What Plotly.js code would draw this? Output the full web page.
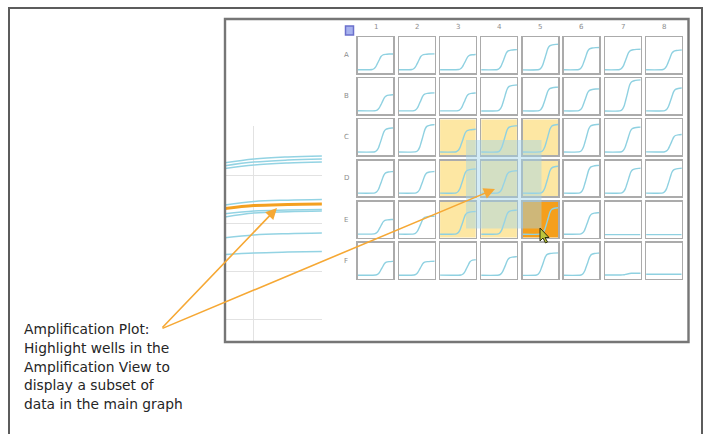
<!DOCTYPE html>
<html><head><meta charset="utf-8">
<script src="https://cdn.plot.ly/plotly-3.0.1.min.js"></script>
<style>html,body{margin:0;padding:0;background:#fff;}#chart{width:704px;height:434px;}</style>
</head><body><div id="chart"></div>
<script>
// ---------------- data ----------------
const colLabels = ['1','2','3','4','5','6','7','8'];
const rowLabels = ['A','B','C','D','E','F'];
// rise point (cycle, 0-40) of each well's amplification curve; null = no amplification
const ctA = [23.2, 21.6, 28.0, 25.2, 25.6, 24.0, 23.6, 26.0];
const ctB = [27.2, 24.0, 27.2, 26.0, 25.6, 24.0, 24.8, 28.0];
const ctC = [26.4, 26.4, 25.2, 26.0, 28.0, 25.2, 25.6, 28.0];
const ctD = [26.4, 26.4, 25.2, 26.0, 28.0, 25.2, 26.0, 26.0];
const ctE = [25.6, 24.0, 25.2, 26.0, 28.0, 26.4, null, null];
const ctF = [27.2, 24.0, 30.4, 26.8, 22.8, 26.4, 24.8, null];
// plateau level of each well (normalised to the well thumbnail)
const plA = [0.53, 0.53, 0.52, 0.65, 0.80, 0.71, 0.66, 0.64];
const plB = [0.54, 0.59, 0.59, 0.81, 0.75, 0.70, 0.95, 0.73];
const plC = [0.76, 0.85, 0.72, 0.82, 0.86, 0.86, 0.78, 0.58];
const plD = [0.69, 0.69, 0.76, 0.71, 0.84, 0.86, 0.78, 0.78];
const plE = [0.50, 0.59, 0.72, 0.76, 0.83, 0.69, 0.08, 0.08];
const plF = [0.48, 0.48, 0.53, 0.61, 0.71, 0.71, 0.15, 0.12];
const baseline = 0.1;
// typical amplification curve shape, relative to the rise point
const tplDx   = [-40, -7, -5, -3, -1.5, 0, 1.5, 3, 5, 8, 12, 40];
const tplFrac = [0, 0, 0.05, 0.17, 0.33, 0.5, 0.68, 0.84, 0.94, 0.98, 1.0, 1.03];
const selectedWells = ['C3','C4','C5','D3','D4','D5','E3','E4'];
const activeWells = ['E5'];
// main amplification graph (visible plateau part)
const mainCycles = [25, 30, 35, 40];
const mainBlue = [
  [1.62, 1.667, 1.688, 1.698],
  [1.59, 1.635, 1.656, 1.667],
  [1.56, 1.604, 1.625, 1.635],
  [1.18, 1.224, 1.238, 1.245],
  [1.09, 1.125, 1.135, 1.141],
  [1.055, 1.104, 1.118, 1.125],
  [0.84, 0.875, 0.889, 0.896],
  [0.668, 0.6875, 0.697, 0.703]
];
const mainOrange = [1.145, 1.182, 1.193, 1.198];
const caption = ['Amplification Plot:', 'Highlight wells in the', 'Amplification View to', 'display a subset of', 'data in the main graph'];

// ---------------- build ----------------
const W = 704, H = 434;
const traces = [];
const shapes = [];
const annotations = [];
const layout = {
  width: W, height: H, margin: {l:0, r:0, t:0, b:0},
  paper_bgcolor: '#ffffff', plot_bgcolor: 'rgba(0,0,0,0)',
  showlegend: false, hovermode: false,
  font: {family: 'DejaVu Sans, sans-serif', color: '#262626'},
  xaxis: {domain:[0,1], range:[0,W], visible:false, fixedrange:true},
  yaxis: {domain:[0,1], range:[H,0], visible:false, fixedrange:true},
  xaxis2: {domain:[225/W, 322/W], range:[25.74, 40.02], anchor:'y2', tick0:0, dtick:10,
           showgrid:true, gridcolor:'#e2e2e2', gridwidth:1, zeroline:false, showline:false,
           showticklabels:false, ticks:'', fixedrange:true},
  yaxis2: {domain:[1-342/H, 1-126/H], range:[-0.2396, 2.0104], anchor:'x2', tick0:0, dtick:0.5,
           showgrid:true, gridcolor:'#e2e2e2', gridwidth:1, zeroline:false, showline:false,
           showticklabels:false, ticks:'', fixedrange:true}
};
// overlay dummy trace so the full-page axis exists
traces.push({type:'scatter', mode:'markers', x:[-10], y:[-10], xaxis:'x', yaxis:'y', marker:{size:1, color:'rgba(0,0,0,0)'}, hoverinfo:'skip'});

// main graph traces
mainBlue.forEach(v => traces.push({type:'scatter', mode:'lines', x:mainCycles, y:v, xaxis:'x2', yaxis:'y2',
  line:{color:'#93d3e3', width:1.5, shape:'spline'}, hoverinfo:'skip'}));
traces.push({type:'scatter', mode:'lines', x:mainCycles, y:mainOrange, xaxis:'x2', yaxis:'y2',
  line:{color:'#f4a020', width:3, shape:'spline'}, hoverinfo:'skip'});

// plate thumbnails
const ctRows = [ctA, ctB, ctC, ctD, ctE, ctF];
const plRows = [plA, plB, plC, plD, plE, plF];
const LW = 1.4;
const cellAxis = {showgrid:false, zeroline:false, showticklabels:false, ticks:'',
  showline:true, mirror:true, linecolor:'#ababab', linewidth:LW, fixedrange:true};
rowLabels.forEach((r, ri) => {
  colLabels.forEach((c, ci) => {
    const n = 3 + ri*8 + ci;
    const left = 357 + ci*41.2 + LW/2, top = 36.5 + ri*41.1 + LW/2;
    const cw = 37 - LW, ch = 37.3 - LW;
    layout['xaxis'+n] = Object.assign({domain:[left/W, (left+cw)/W], range:[0,40], anchor:'y'+n}, cellAxis);
    layout['yaxis'+n] = Object.assign({domain:[1-(top+ch)/H, 1-top/H], range:[0,1], anchor:'x'+n}, cellAxis);
    const ct = ctRows[ri][ci], pl = plRows[ri][ci];
    let xs, ys;
    if (ct === null) { xs = [0, 40]; ys = [pl, pl]; }
    else { xs = tplDx.map(d => ct + d); ys = tplFrac.map(f => baseline + f*(pl - baseline)); }
    traces.push({type:'scatter', mode:'lines', x:xs, y:ys, xaxis:'x'+n, yaxis:'y'+n,
      line:{color:'#8fd1e1', width:1.4, shape:'spline', smoothing:0.7}, hoverinfo:'skip'});
    const id = r + c;
    if (selectedWells.includes(id) || activeWells.includes(id)) {
      shapes.push({type:'rect', xref:'x'+n+' domain', yref:'y'+n+' domain', x0:0, x1:1, y0:0, y1:1,
        fillcolor: activeWells.includes(id) ? '#f59f1c' : '#fde7a3', line:{width:0}, layer:'below'});
    }
    if (ri === 0) annotations.push({xref:'x'+n+' domain', yref:'y', x:0.5, y:27, text:c, showarrow:false,
      font:{size:7, color:'#8c8c8c'}});
    if (ci === 0) annotations.push({xref:'x', yref:'y'+n+' domain', x:346, y:0.5, text:r, showarrow:false,
      font:{size:7, color:'#8c8c8c'}});
  });
});

// UI chrome (full-page pixel overlay)
shapes.push({type:'rect', xref:'x', yref:'y', x0:9, y0:8, x1:702, y1:450, line:{color:'#5c5c5c', width:2}, layer:'above'});
shapes.push({type:'rect', xref:'x', yref:'y', x0:225, y0:19, x1:688.5, y1:342, line:{color:'#767676', width:2.4}, layer:'above'});
shapes.push({type:'rect', xref:'x', yref:'y', x0:345.5, y0:26, x1:353.5, y1:35, fillcolor:'#a7b2ee', line:{color:'#6b70cc', width:1.5}, layer:'above'});
// selection rectangle
shapes.push({type:'rect', xref:'x', yref:'y', x0:466, y0:140, x1:541.5, y1:228.5, fillcolor:'rgba(160,212,236,0.45)', line:{width:0}, layer:'above'});
// mouse pointer
shapes.push({type:'path', xref:'x', yref:'y', layer:'above',
  path:'M540,228 L540,241 L543,238 L545.5,243 L547.5,242 L545,237.5 L549,237.5 Z',
  fillcolor:'#bcc43a', line:{color:'#2e3210', width:1}});

// arrows
annotations.push({xref:'x', yref:'y', x:277, y:208, ax:-116, ay:121, axref:'pixel', ayref:'pixel', text:'',
  showarrow:true, arrowhead:2, arrowsize:1.4, arrowwidth:1.6, arrowcolor:'#f6a834', standoff:0});
annotations.push({xref:'x', yref:'y', x:495, y:189, ax:-334, ay:140, axref:'pixel', ayref:'pixel', text:'',
  showarrow:true, arrowhead:2, arrowsize:1.4, arrowwidth:1.6, arrowcolor:'#f6a834', standoff:0});
// caption
caption.forEach((t, i) => annotations.push({xref:'x', yref:'y', x:22, y:329 + i*18.8, text:t, showarrow:false,
  xanchor:'left', yanchor:'middle', font:{size:13.8, color:'#262626', family:'DejaVu Sans, sans-serif'}}));

layout.shapes = shapes;
layout.annotations = annotations;
Plotly.newPlot('chart', traces, layout, {staticPlot:true, displayModeBar:false});
</script>
</body></html>
